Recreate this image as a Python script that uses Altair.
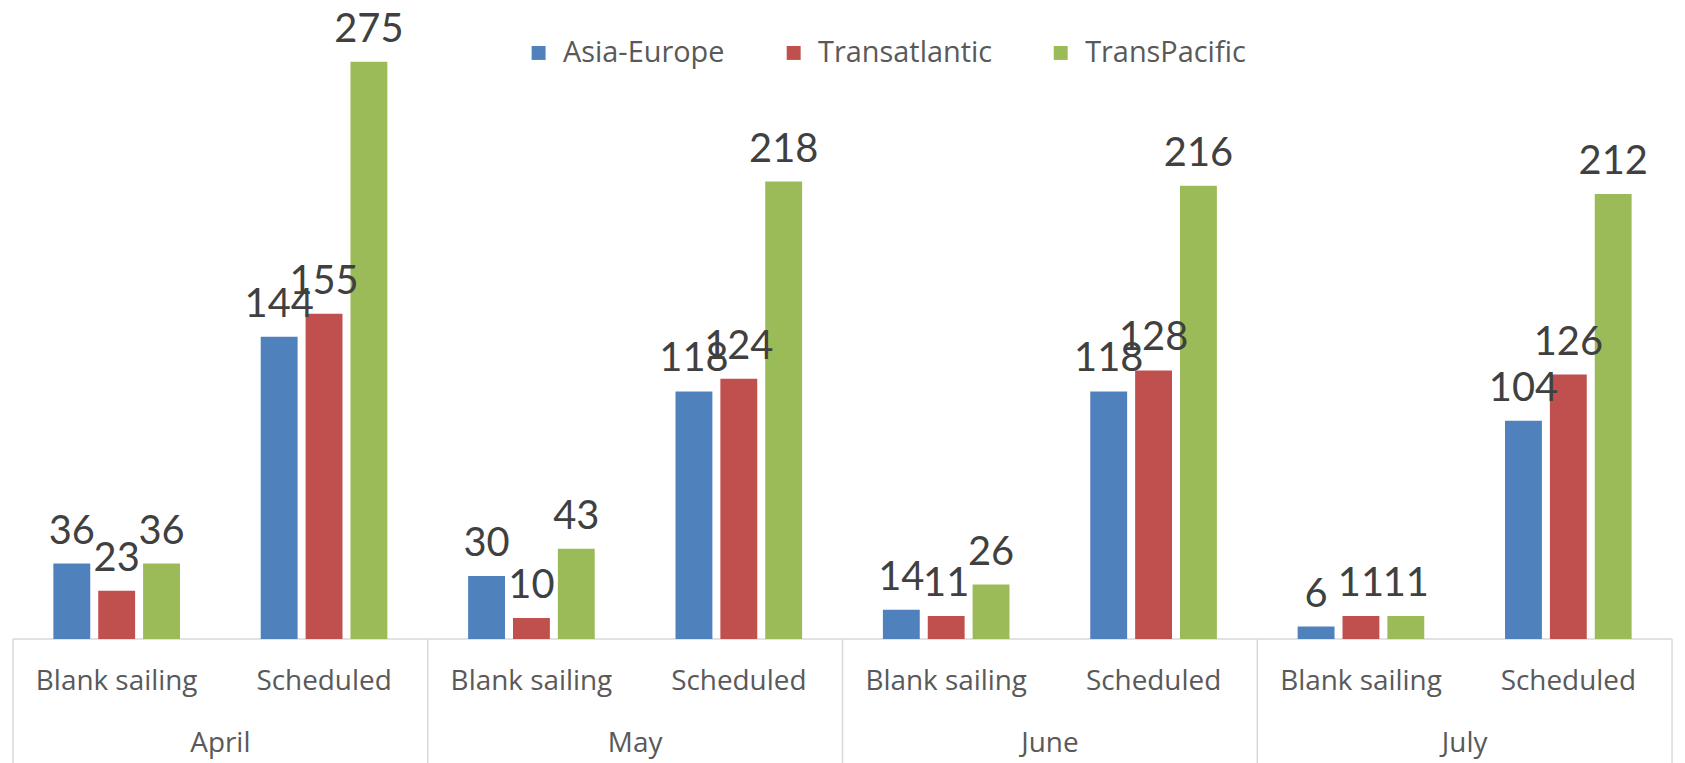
import altair as alt
import pandas as pd

months = ["April", "May", "June", "July"]
cats = ["Blank sailing", "Scheduled"]
series = ["Asia-Europe", "Transatlantic", "TransPacific"]
colors = ["#4f81bd", "#c0504d", "#9bbb59"]

asia_europe = [36, 144, 30, 118, 14, 118, 6, 104]
transatlantic = [23, 155, 10, 124, 11, 128, 11, 126]
transpacific = [36, 275, 43, 218, 26, 216, 11, 212]

keys = [f"{m}|{c}" for m in months for c in cats]
rows = []
for s, vals in zip(series, [asia_europe, transatlantic, transpacific]):
    for k, v in zip(keys, vals):
        rows.append({"key": k, "series": s, "value": v})
df = pd.DataFrame(rows)

FONT = "Lato"
LFONT = "Open Sans"
xscale = alt.Scale(domain=keys, paddingInner=0, paddingOuter=0)
yscale = alt.Scale(domain=[0, 300], nice=False, zero=True)
offscale = alt.Scale(domain=series, paddingInner=0.178, paddingOuter=0.9)

x_enc = alt.X("key:N", scale=xscale, axis=None, sort=keys)
y_enc = alt.Y("value:Q", scale=yscale, axis=None)
off_enc = alt.XOffset("series:N", scale=offscale, sort=series)

bars = alt.Chart(df).mark_bar().encode(
    x=x_enc,
    y=y_enc,
    xOffset=off_enc,
    color=alt.Color(
        "series:N",
        scale=alt.Scale(domain=series, range=colors),
        legend=alt.Legend(
            title=None,
            orient="none",
            direction="horizontal",
            legendX=513,
            legendY=29,
            symbolType="square",
            symbolSize=196,
            symbolStrokeWidth=0,
            labelFontSize=29,
            labelFont=LFONT,
            labelColor="#595959",
            labelOffset=10,
            labelLimit=500,
            columnPadding=54,
            padding=0,
        ),
    ),
)

labels = alt.Chart(df).mark_text(
    dy=-20, baseline="alphabetic", fontSize=40, font=FONT, color="#404040"
).encode(x=x_enc, y=y_enc, xOffset=off_enc, text="value:Q")

# frame below the baseline (category axis)
line_color = "#d9d9d9"
edge_keys = [f"{m}|{cats[0]}" for m in months]
edges = pd.DataFrame({"key": edge_keys, "y0": [0] * 4, "y1": [-60] * 4})
vrules = alt.Chart(edges).mark_rule(color=line_color, strokeWidth=1.5).encode(
    x=alt.X("key:N", scale=xscale, axis=None, sort=keys, bandPosition=0),
    y=alt.Y("y0:Q", scale=yscale, axis=None),
    y2="y1:Q",
)
right_edge = pd.DataFrame({"key": [keys[-1]], "y0": [0], "y1": [-60]})
vrule_right = alt.Chart(right_edge).mark_rule(color=line_color, strokeWidth=1.5).encode(
    x=alt.X("key:N", scale=xscale, axis=None, sort=keys, bandPosition=1),
    y=alt.Y("y0:Q", scale=yscale, axis=None),
    y2="y1:Q",
)
base = pd.DataFrame({"y0": [0]})
hrule = alt.Chart(base).mark_rule(color=line_color, strokeWidth=1.5).encode(
    x=alt.value(0), x2=alt.value("width"), y=alt.Y("y0:Q", scale=yscale, axis=None)
)

cat_df = pd.DataFrame({"key": keys, "label": [c for m in months for c in cats], "ypos": [-20.5] * 8})
cat_text = alt.Chart(cat_df).mark_text(
    fontSize=28, font=LFONT, color="#595959", baseline="middle"
).encode(
    x=alt.X("key:N", scale=xscale, axis=None, sort=keys),
    y=alt.Y("ypos:Q", scale=yscale, axis=None),
    text="label:N",
)
mon_df = pd.DataFrame({"key": [f"{m}|{cats[1]}" for m in months], "label": months, "ypos": [-50] * 4})
mon_text = alt.Chart(mon_df).mark_text(
    fontSize=28, font=LFONT, color="#595959", baseline="middle"
).encode(
    x=alt.X("key:N", scale=xscale, axis=None, sort=keys, bandPosition=0),
    y=alt.Y("ypos:Q", scale=yscale, axis=None),
    text="label:N",
)

chart = alt.layer(hrule, vrules, vrule_right, bars, labels, cat_text, mon_text).properties(
    width=1665, height=632, padding={"left": 4, "top": 0, "right": 4, "bottom": 0}
).configure_view(stroke=None)

chart.save("out.html", embed_options={"renderer": "svg", "actions": False})
